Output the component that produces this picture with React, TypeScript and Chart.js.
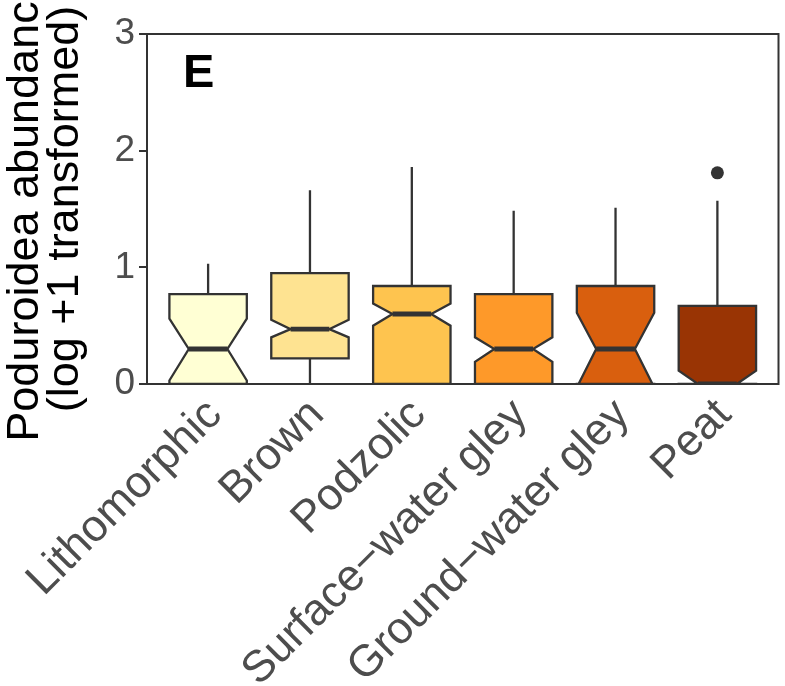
import React, { useEffect, useRef } from "react";
import { Chart, registerables } from "chart.js";

Chart.register(...registerables);

const categories = [
  "Lithomorphic",
  "Brown",
  "Podzolic",
  "Surface\u2212water gley",
  "Ground\u2212water gley",
  "Peat",
];
const whiskerLow = [0, 0, 0, 0, 0, 0];
const lowerHinge = [0, 0.22, 0, 0, 0, 0];
const medians = [0.3, 0.47, 0.6, 0.3, 0.3, 0];
const upperHinge = [0.77, 0.95, 0.84, 0.77, 0.84, 0.67];
const whiskerHigh = [1.03, 1.66, 1.86, 1.485, 1.51, 1.57];
const notchLow = [0.03, 0.4, 0.5, 0.19, -0.03, -0.11];
const notchHigh = [0.56, 0.55, 0.69, 0.4, 0.61, 0.114];
const outlierX = [6];
const outlierY = [1.81];
const fillColors = ["#FFFFD4", "#FEE391", "#FEC44F", "#FE9929", "#D95F0E", "#993404"];
const yTickValues = [0, 1, 2, 3];
const panelTag = "E";
const yTitle = ["Poduroidea abundance", "(log +1 transformed)"];

const FONT = "'Liberation Sans', Arial, sans-serif";
const INK = "#333333";
const BOX_WIDTH = 0.76;

const boxPlugin = {
  id: "notchedBoxes",
  beforeDatasetsDraw(chart: any) {
    const { ctx, chartArea: a, scales } = chart;
    const x = scales.x;
    const y = scales.y;
    ctx.save();
    ctx.beginPath();
    ctx.rect(a.left, a.top, a.right - a.left, a.bottom - a.top);
    ctx.clip();
    categories.forEach((_, i) => {
      const c = x.getPixelForValue(i + 1);
      const hw = x.getPixelForValue(i + 1 + BOX_WIDTH / 2) - c;
      const xl = c - hw;
      const xr = c + hw;
      const ind = hw / 2;
      const py = (v: number) => y.getPixelForValue(v);
      // whiskers
      ctx.strokeStyle = INK;
      ctx.lineWidth = 2.3;
      ctx.lineCap = "butt";
      ctx.beginPath();
      ctx.moveTo(c, py(upperHinge[i]));
      ctx.lineTo(c, py(whiskerHigh[i]));
      ctx.moveTo(c, py(lowerHinge[i]));
      ctx.lineTo(c, py(whiskerLow[i]));
      ctx.stroke();
      // notched box
      ctx.beginPath();
      ctx.moveTo(xl, py(upperHinge[i]));
      ctx.lineTo(xl, py(notchHigh[i]));
      ctx.lineTo(xl + ind, py(medians[i]));
      ctx.lineTo(xl, py(notchLow[i]));
      ctx.lineTo(xl, py(lowerHinge[i]));
      ctx.lineTo(xr, py(lowerHinge[i]));
      ctx.lineTo(xr, py(notchLow[i]));
      ctx.lineTo(xr - ind, py(medians[i]));
      ctx.lineTo(xr, py(notchHigh[i]));
      ctx.lineTo(xr, py(upperHinge[i]));
      ctx.closePath();
      ctx.fillStyle = fillColors[i];
      ctx.fill();
      ctx.lineJoin = "miter";
      ctx.stroke();
      // median
      ctx.lineWidth = 4.8;
      ctx.beginPath();
      ctx.moveTo(xl + ind, py(medians[i]));
      ctx.lineTo(xr - ind, py(medians[i]));
      ctx.stroke();
    });
    ctx.restore();
  },
  afterDraw(chart: any) {
    const { ctx, chartArea: a } = chart;
    ctx.save();
    ctx.strokeStyle = INK;
    ctx.lineWidth = 2;
    ctx.strokeRect(a.left, a.top, a.right - a.left, a.bottom - a.top);
    ctx.fillStyle = "#000";
    ctx.font = `bold 47px ${FONT}`;
    ctx.textAlign = "left";
    ctx.textBaseline = "alphabetic";
    ctx.fillText(panelTag, a.left + 36, a.top + 53);
    ctx.restore();
  },
};

export default function App() {
  const ref = useRef<HTMLCanvasElement>(null);
  useEffect(() => {
    document.body.style.margin = "0";
    const chart = new Chart(ref.current as HTMLCanvasElement, {
      type: "scatter",
      data: {
        datasets: [
          {
            data: outlierX.map((v, i) => ({ x: v, y: outlierY[i] })),
            backgroundColor: INK,
            borderColor: INK,
            borderWidth: 0,
            pointRadius: 6.5,
          },
        ],
      },
      options: {
        animation: false,
        responsive: false,
        layout: { padding: { top: 34, right: 6, left: 0, bottom: 0 } },
        plugins: { legend: { display: false }, tooltip: { enabled: false } },
        scales: {
          x: {
            type: "linear",
            min: 0.4,
            max: 6.6,
            afterBuildTicks: (s: any) => {
              s.ticks = categories.map((_, i) => ({ value: i + 1 }));
            },
            afterFit: (s: any) => {
              s.height = 302;
            },
            grid: { display: false, drawTicks: false },
            border: { display: false },
            ticks: {
              autoSkip: false,
              maxRotation: 45,
              minRotation: 45,
              padding: 5,
              labelOffset: 7,
              color: "#4d4d4d",
              font: { size: 44.5, family: FONT },
              callback: (v: any) => categories[Math.round(v) - 1] ?? "",
            },
          },
          y: {
            min: 0,
            max: 3,
            afterBuildTicks: (s: any) => {
              s.ticks = yTickValues.map((v) => ({ value: v }));
            },
            afterFit: (s: any) => {
              s.width = 147;
            },
            grid: {
              drawOnChartArea: false,
              drawTicks: true,
              tickLength: 8,
              color: INK,
              lineWidth: 2,
            },
            border: { display: false },
            ticks: {
              padding: 4,
              color: "#4d4d4d",
              font: { size: 37, family: FONT },
              callback: (v: any) => String(v),
            },
            title: {
              display: true,
              text: yTitle,
              color: "#000",
              font: { size: 45, family: FONT, lineHeight: 0.89 },
              padding: { top: 6, bottom: 0 },
            },
          },
        },
      },
      plugins: [boxPlugin],
    } as any);
    return () => chart.destroy();
  }, []);
  return (
    <div style={{ position: "absolute", left: 0, top: 0, width: 785, height: 686 }}>
      <canvas ref={ref} width={785} height={686} />
    </div>
  );
}
